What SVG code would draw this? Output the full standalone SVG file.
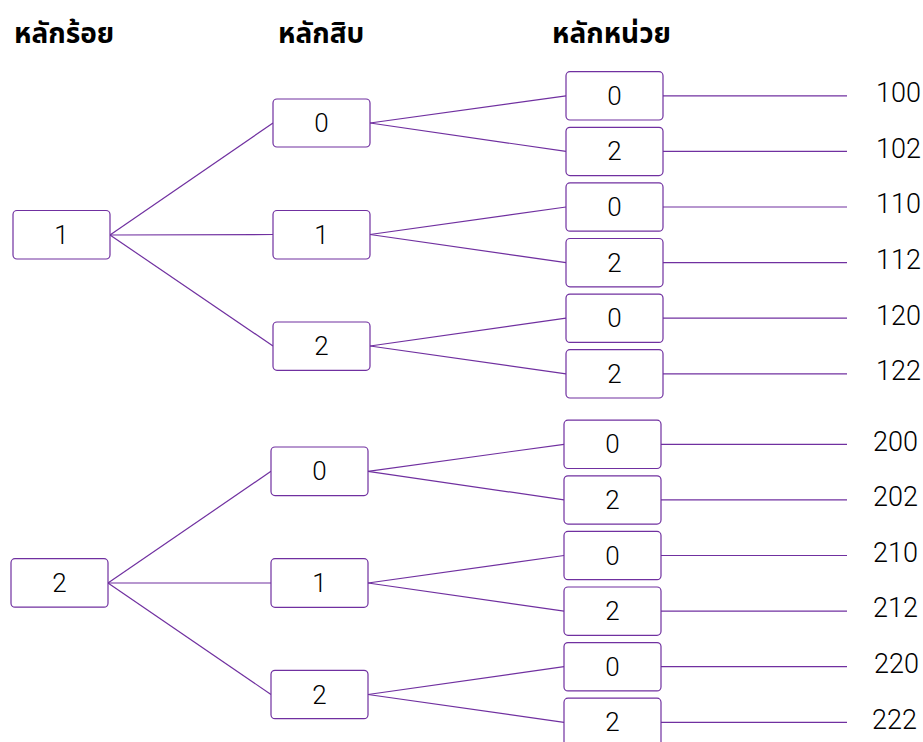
<svg xmlns="http://www.w3.org/2000/svg" width="923" height="742" viewBox="0 0 923 742">
  <style>
    .box { fill: #ffffff; stroke: #7030a0; stroke-width: 1.2; }
    .num { font-family: Roboto, "Liberation Sans", Arial, sans-serif; font-weight: 300; font-size: 26px; fill: #000000; text-anchor: middle; dominant-baseline: central; }
    .res { font-family: Roboto, "Liberation Sans", Arial, sans-serif; font-weight: 300; font-size: 27px; fill: #000000; dominant-baseline: central; }
    .head { font-family: "Noto Sans Thai", "Noto Sans", "Leelawadee UI", Tahoma, sans-serif; font-size: 28px; font-weight: 700; fill: #000000; }
    #connectors line { stroke: #7030a0; stroke-width: 1.2; }
  </style>

  <!-- column headings -->
  <g id="headings">
    <text class="head" x="14" y="43">หลักร้อย</text>
    <text class="head" x="278" y="43">หลักสิบ</text>
    <text class="head" x="552" y="43">หลักหน่วย</text>
  </g>

  <!-- connectors: hundreds -> tens -> units -> result -->
  <g id="connectors">
    <!-- hundreds 1 -->
    <line x1="110" y1="235" x2="273" y2="123"/>
    <line x1="110" y1="235" x2="273" y2="234.5"/>
    <line x1="110" y1="235" x2="273" y2="346"/>
    <!-- tens under 1 -->
    <line x1="370" y1="123" x2="566" y2="95.8"/>
    <line x1="370" y1="123" x2="566" y2="151.4"/>
    <line x1="370" y1="234.5" x2="566" y2="207"/>
    <line x1="370" y1="234.5" x2="566" y2="262.6"/>
    <line x1="370" y1="346" x2="566" y2="318.2"/>
    <line x1="370" y1="346" x2="566" y2="373.8"/>
    <!-- units to results, 1xx -->
    <line x1="663" y1="95.8" x2="847" y2="95.8"/>
    <line x1="663" y1="151.4" x2="847" y2="151.4"/>
    <line x1="663" y1="207" x2="847" y2="207"/>
    <line x1="663" y1="262.6" x2="847" y2="262.6"/>
    <line x1="663" y1="318.2" x2="847" y2="318.2"/>
    <line x1="663" y1="373.8" x2="847" y2="373.8"/>
    <!-- hundreds 2 -->
    <line x1="108" y1="583" x2="271" y2="471.3"/>
    <line x1="108" y1="583" x2="271" y2="583"/>
    <line x1="108" y1="583" x2="271" y2="694.5"/>
    <!-- tens under 2 -->
    <line x1="368" y1="471.3" x2="564" y2="444.3"/>
    <line x1="368" y1="471.3" x2="564" y2="499.9"/>
    <line x1="368" y1="583" x2="564" y2="555.5"/>
    <line x1="368" y1="583" x2="564" y2="611.1"/>
    <line x1="368" y1="694.5" x2="564" y2="666.7"/>
    <line x1="368" y1="694.5" x2="564" y2="722.3"/>
    <!-- units to results, 2xx -->
    <line x1="661" y1="444.3" x2="847" y2="444.3"/>
    <line x1="661" y1="499.9" x2="847" y2="499.9"/>
    <line x1="661" y1="555.5" x2="847" y2="555.5"/>
    <line x1="661" y1="611.1" x2="847" y2="611.1"/>
    <line x1="661" y1="666.7" x2="847" y2="666.7"/>
    <line x1="661" y1="722.3" x2="847" y2="722.3"/>
  </g>

  <!-- hundreds digit nodes -->
  <g id="h1"><rect class="box" x="13" y="210.5" width="97" height="48.5" rx="4"/><text class="num" x="61.5" y="235">1</text></g>
  <g id="h2"><rect class="box" x="11" y="558.7" width="97" height="48.5" rx="4"/><text class="num" x="59.5" y="583">2</text></g>

  <!-- tens digit nodes -->
  <g id="t10"><rect class="box" x="273" y="99" width="97" height="48" rx="4"/><text class="num" x="321.5" y="123">0</text></g>
  <g id="t11"><rect class="box" x="273" y="210.5" width="97" height="48.5" rx="4"/><text class="num" x="321.5" y="235">1</text></g>
  <g id="t12"><rect class="box" x="273" y="322" width="97" height="48.3" rx="4"/><text class="num" x="321.5" y="346">2</text></g>
  <g id="t20"><rect class="box" x="271" y="447" width="97" height="48.6" rx="4"/><text class="num" x="319.5" y="471.3">0</text></g>
  <g id="t21"><rect class="box" x="271" y="558.7" width="97" height="48.6" rx="4"/><text class="num" x="319.5" y="583">1</text></g>
  <g id="t22"><rect class="box" x="271" y="670.3" width="97" height="48.4" rx="4"/><text class="num" x="319.5" y="694.5">2</text></g>

  <!-- units digit nodes, 1xx -->
  <g id="u100"><rect class="box" x="566" y="71.7" width="97" height="48.3" rx="4"/><text class="num" x="614.5" y="95.8">0</text></g>
  <g id="u102"><rect class="box" x="566" y="127.3" width="97" height="48.3" rx="4"/><text class="num" x="614.5" y="151.4">2</text></g>
  <g id="u110"><rect class="box" x="566" y="182.9" width="97" height="48.3" rx="4"/><text class="num" x="614.5" y="207">0</text></g>
  <g id="u112"><rect class="box" x="566" y="238.5" width="97" height="48.3" rx="4"/><text class="num" x="614.5" y="262.6">2</text></g>
  <g id="u120"><rect class="box" x="566" y="294.1" width="97" height="48.3" rx="4"/><text class="num" x="614.5" y="318.2">0</text></g>
  <g id="u122"><rect class="box" x="566" y="349.7" width="97" height="48.3" rx="4"/><text class="num" x="614.5" y="373.8">2</text></g>

  <!-- units digit nodes, 2xx -->
  <g id="u200"><rect class="box" x="564" y="420.2" width="97" height="48.3" rx="4"/><text class="num" x="612.5" y="444.3">0</text></g>
  <g id="u202"><rect class="box" x="564" y="475.8" width="97" height="48.3" rx="4"/><text class="num" x="612.5" y="499.9">2</text></g>
  <g id="u210"><rect class="box" x="564" y="531.4" width="97" height="48.3" rx="4"/><text class="num" x="612.5" y="555.5">0</text></g>
  <g id="u212"><rect class="box" x="564" y="587" width="97" height="48.3" rx="4"/><text class="num" x="612.5" y="611.1">2</text></g>
  <g id="u220"><rect class="box" x="564" y="642.6" width="97" height="48.3" rx="4"/><text class="num" x="612.5" y="666.7">0</text></g>
  <g id="u222"><rect class="box" x="564" y="698.2" width="97" height="48.3" rx="4"/><text class="num" x="612.5" y="722.3">2</text></g>

  <!-- resulting three-digit numbers -->
  <g id="results">
    <text class="res" x="876" y="93">100</text>
    <text class="res" x="876" y="148.5">102</text>
    <text class="res" x="876" y="204">110</text>
    <text class="res" x="876" y="260">112</text>
    <text class="res" x="876" y="315.5">120</text>
    <text class="res" x="876" y="371">122</text>
    <text class="res" x="873" y="441.5">200</text>
    <text class="res" x="873" y="497">202</text>
    <text class="res" x="873" y="552.5">210</text>
    <text class="res" x="873" y="608">212</text>
    <text class="res" x="874" y="664">220</text>
    <text class="res" x="872" y="719.5">222</text>
  </g>
</svg>
